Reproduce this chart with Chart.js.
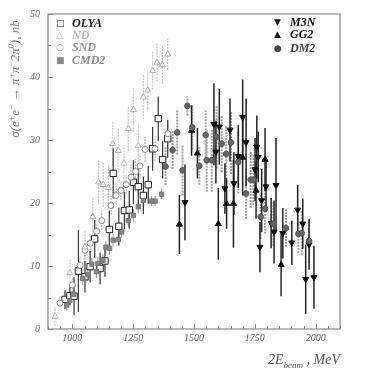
<!DOCTYPE html>
<html>
<head>
<meta charset="utf-8">
<script src="https://cdn.jsdelivr.net/npm/chart.js@4.4.1/dist/chart.umd.min.js"></script>
<style>
  html, body { margin: 0; padding: 0; background: #fff; }
  #wrap { position: relative; width: 368px; height: 377px; overflow: hidden; }
  #chart { position: absolute; left: 0; top: 0; }
  .serif { position: absolute; font-family: "Liberation Serif", "DejaVu Serif", serif; font-style: italic; white-space: nowrap; }
  .leg { font-size: 12px; font-weight: bold; line-height: 12px; }
  .mk { position: absolute; font-family: "DejaVu Sans", sans-serif; font-style: normal; font-size: 9px; line-height: 12px; }
  #ytitle { left: 15px; top: 79px; font-size: 13px; color: #777; transform: translate(-50%, -50%) rotate(-90deg); }
  #ytitle sup { font-size: 8px; }
  #xtitle { right: 28px; top: 352px; font-size: 14px; color: #555; }
  #xtitle sub { font-size: 9px; }
</style>
</head>
<body>
<div id="wrap">
  <canvas id="chart" width="368" height="377"></canvas>
  <div id="ytitle" class="serif">σ(e<sup>+</sup>e<sup>−</sup> → π<sup>+</sup>π<sup>−</sup>2π<sup>0</sup>), nb</div>
  <div id="xtitle" class="serif">2E<sub>beam</sub> , MeV</div>
  <div id="legend"></div>
</div>
<script>
// Axis ticks
const xTickValues = [1000, 1250, 1500, 1750, 2000];
const yTickValues = [0, 10, 20, 30, 40, 50];

// OLYA
const olyaE = [970, 990, 1007, 1025, 1052, 1073, 1092, 1114, 1134, 1152, 1168, 1191, 1214, 1234, 1251, 1271, 1292, 1312, 1330, 1353, 1371, 1392];
const olyaS = [4.7, 5.3, 5.2, 9.2, 8.3, 9.9, 14.3, 9.6, 10.8, 15.8, 24.7, 16.3, 18.8, 18.9, 23.3, 22.6, 21.2, 22.9, 28.6, 33.4, 26.9, 30.2];
const olyaErr = [1.5, 1.5, 3.0, 6.5, 2.5, 2.5, 3.0, 2.5, 2.5, 3.0, 4.0, 3.0, 3.0, 3.0, 3.5, 3.0, 3.0, 3.0, 3.5, 3.5, 3.0, 3.0];

// ND
const ndE = [929, 990, 1052, 1084, 1108, 1127, 1148, 1166, 1189, 1212, 1230, 1251, 1271, 1292, 1310, 1330, 1348, 1370, 1392];
const ndS = [2.0, 8.9, 13.0, 17.8, 23.3, 22.9, 22.4, 29.4, 28.3, 26.3, 31.8, 34.8, 29.1, 36.8, 37.9, 41.0, 42.3, 41.9, 43.6];
const ndErr = [1.5, 2.0, 2.5, 3.0, 3.5, 3.5, 3.5, 3.5, 3.5, 3.0, 3.5, 3.5, 3.5, 3.5, 3.0, 3.0, 3.0, 3.0, 2.5];

// SND
const sndE = [949, 1000, 1032, 1052, 1073, 1100, 1121, 1159, 1180, 1200, 1221, 1241, 1260, 1278, 1299, 1340, 1393];
const sndS = [4.1, 7.0, 10.1, 12.5, 13.6, 15.5, 17.2, 19.6, 21.2, 22.0, 22.9, 24.1, 25.0, 25.9, 28.5, 28.6, 31.0];
const sndErr = [1.0, 1.2, 1.5, 1.5, 1.5, 1.5, 1.5, 1.5, 1.5, 1.5, 1.5, 2.0, 2.0, 2.0, 2.0, 2.0, 2.0];

// CMD2
const cmdE = [977, 990, 1005, 1043, 1064, 1080, 1099, 1105, 1126, 1138, 1153, 1168, 1189, 1203, 1230, 1251, 1271, 1292, 1326, 1340, 1367];
const cmdS = [3.8, 4.5, 5.5, 8.0, 8.6, 10.3, 9.1, 10.4, 10.9, 13.0, 12.8, 14.1, 14.2, 15.4, 17.2, 18.0, 19.4, 20.4, 20.3, 20.3, 21.4];
const cmdErr = [0.8, 0.8, 0.8, 1.0, 1.0, 1.0, 1.0, 1.0, 1.0, 1.0, 1.0, 1.0, 1.0, 1.0, 1.0, 1.0, 1.0, 1.0, 0.8, 0.8, 0.8];

// M3N
const m3nE = [1463, 1582, 1590, 1604, 1627, 1648, 1664, 1682, 1700, 1714, 1751, 1758, 1764, 1771, 1778, 1796, 1817, 1829, 1837, 1865, 1902, 1926, 1947, 1959, 1973, 1993];
const m3nS = [20.1, 32.5, 28.1, 32.1, 22.3, 31.6, 23.1, 27.4, 33.6, 29.6, 25.3, 28.9, 27.3, 13.0, 20.4, 22.6, 16.8, 15.4, 22.8, 15.2, 13.7, 18.9, 16.7, 7.9, 13.4, 8.2];
const m3nErr = [6.0, 6.5, 5.0, 6.0, 4.0, 5.0, 5.0, 5.0, 6.0, 7.0, 5.0, 5.0, 4.0, 4.0, 5.0, 4.0, 4.0, 5.0, 7.5, 4.0, 3.5, 4.0, 4.0, 5.5, 4.0, 5.0];

// GG2
const gg2E = [1440, 1490, 1514, 1600, 1634, 1662, 1700, 1755, 1792, 1858];
const gg2S = [16.6, 31.5, 27.9, 16.7, 19.9, 19.9, 27.2, 22.0, 26.9, 10.2];
const gg2Err = [4.7, 4.0, 4.0, 5.7, 4.0, 7.0, 6.0, 4.5, 5.0, 5.0];

// DM2
const dm2E = [1383, 1412, 1431, 1453, 1473, 1493, 1522, 1548, 1552, 1573, 1593, 1614, 1632, 1652, 1682, 1714, 1733, 1744, 1774, 1792, 1826, 1878, 1929, 1943, 1973];
const dm2S = [25.8, 28.4, 31.2, 25.2, 35.4, 32.0, 25.9, 30.8, 26.8, 26.8, 30.5, 29.4, 27.8, 29.6, 26.5, 21.5, 23.7, 23.7, 17.8, 19.1, 16.7, 16.0, 15.1, 15.2, 14.0];
const dm2Err = [3.0, 3.0, 3.5, 4.0, 1.5, 3.5, 3.0, 4.0, 5.0, 5.0, 5.0, 4.5, 4.5, 5.0, 5.0, 4.0, 4.5, 4.0, 3.5, 4.0, 3.5, 3.0, 3.0, 3.5, 3.5];

const toPoints = (xs, ys) => xs.map((x, i) => ({ x: x, y: ys[i] }));

// Build one scatter dataset with error info
function series(label, xs, ys, errs, style) {
  return Object.assign({
    label: label,
    data: toPoints(xs, ys),
    errors: errs,
    showLine: false,
    borderWidth: 1,
  }, style);
}

const datasets = [
  series('ND', ndE, ndS, ndErr, { pointStyle: 'triangle', pointRadius: 3.5, backgroundColor: '#fff', borderColor: '#b5b5b5', errColor: '#c8c8c8', errWidth: 1.2, errDash: [2, 1] }),
  series('SND', sndE, sndS, sndErr, { pointStyle: 'circle', pointRadius: 3, backgroundColor: '#fff', borderColor: '#8c8c8c', errColor: '#aaa', errWidth: 1, errDash: [2, 1] }),
  series('CMD2', cmdE, cmdS, cmdErr, { pointStyle: 'rect', pointRadius: 3, backgroundColor: '#888', borderColor: '#777', errColor: '#999', errWidth: 1, errDash: [] }),
  series('DM2', dm2E, dm2S, dm2Err, { pointStyle: 'circle', pointRadius: 2.8, backgroundColor: '#666', borderColor: '#555', errColor: '#a0a0a0', errWidth: 2, errDash: [2, 1] }),
  series('OLYA', olyaE, olyaS, olyaErr, { pointStyle: 'rect', pointRadius: 4.5, backgroundColor: '#fff', borderColor: '#222', errColor: '#333', errWidth: 1.2, errDash: [] }),
  series('GG2', gg2E, gg2S, gg2Err, { pointStyle: 'triangle', pointRadius: 3.5, backgroundColor: '#111', borderColor: '#111', errColor: '#222', errWidth: 1.5, errDash: [] }),
  series('M3N', m3nE, m3nS, m3nErr, { pointStyle: 'triangle', rotation: 180, pointRadius: 3.5, backgroundColor: '#111', borderColor: '#111', errColor: '#222', errWidth: 1.5, errDash: [] }),
];

// Error bars, frame and inward ticks
const physPlot = {
  id: 'physPlot',
  beforeDatasetsDraw(chart) {
    const ctx = chart.ctx;
    const xs = chart.scales.x, ys = chart.scales.y;
    ctx.save();
    chart.data.datasets.forEach((ds) => {
      ctx.strokeStyle = ds.errColor;
      ctx.lineWidth = ds.errWidth;
      ctx.setLineDash(ds.errDash);
      ds.data.forEach((p, i) => {
        const px = xs.getPixelForValue(p.x);
        ctx.beginPath();
        ctx.moveTo(px, ys.getPixelForValue(p.y - ds.errors[i]));
        ctx.lineTo(px, ys.getPixelForValue(p.y + ds.errors[i]));
        ctx.stroke();
      });
    });
    ctx.restore();
  },
  afterDraw(chart) {
    const ctx = chart.ctx;
    const a = chart.chartArea;
    const xs = chart.scales.x, ys = chart.scales.y;
    ctx.save();
    ctx.strokeStyle = '#8a8a8a';
    ctx.lineWidth = 1.2;
    ctx.strokeRect(a.left, a.top, a.right - a.left, a.bottom - a.top);
    ctx.lineWidth = 1;
    ctx.beginPath();
    for (let v = 900; v <= 2100; v += 50) {
      const px = Math.round(xs.getPixelForValue(v)) + 0.5;
      const len = v % 250 === 0 ? 5 : 3;
      ctx.moveTo(px, a.bottom);
      ctx.lineTo(px, a.bottom - len);
    }
    for (let v = 0; v <= 50; v += 5) {
      const py = Math.round(ys.getPixelForValue(v)) + 0.5;
      const len = v % 10 === 0 ? 5 : 3;
      ctx.moveTo(a.left, py);
      ctx.lineTo(a.left + len, py);
    }
    ctx.stroke();
    ctx.restore();
  },
};

const tickFont = { family: '"Liberation Serif", "DejaVu Serif", serif', style: 'italic', size: 10 };

new Chart(document.getElementById('chart'), {
  type: 'scatter',
  data: { datasets: datasets },
  options: {
    responsive: false,
    animation: false,
    layout: { padding: { left: 0, top: 13, right: 28, bottom: 0 } },
    plugins: { legend: { display: false }, tooltip: { enabled: false } },
    scales: {
      x: {
        type: 'linear',
        min: 900,
        max: 2100,
        afterBuildTicks: (s) => { s.ticks = xTickValues.map((v) => ({ value: v })); },
        afterFit: (s) => { s.height = 48; },
        grid: { display: false, drawTicks: false },
        border: { display: false },
        ticks: { font: tickFont, color: '#666', padding: 3, callback: (v) => String(v) },
      },
      y: {
        type: 'linear',
        min: 0,
        max: 50,
        afterBuildTicks: (s) => { s.ticks = yTickValues.map((v) => ({ value: v })); },
        afterFit: (s) => { s.width = 48; },
        grid: { display: false, drawTicks: false },
        border: { display: false },
        ticks: { font: tickFont, color: '#666', padding: 8, callback: (v) => String(v) },
      },
    },
  },
  plugins: [physPlot],
});

// Legend (two groups inside the plot)
const legendItems = [
  { text: 'OLYA', mark: '□', color: '#222', x: 56, y: 17 },
  { text: 'ND', mark: '△', color: '#bbb', x: 56, y: 29 },
  { text: 'SND', mark: '○', color: '#999', x: 56, y: 41 },
  { text: 'CMD2', mark: '■', color: '#888', x: 56, y: 54 },
  { text: 'M3N', mark: '▼', color: '#111', x: 274, y: 16 },
  { text: 'GG2', mark: '▲', color: '#111', x: 274, y: 28 },
  { text: 'DM2', mark: '●', color: '#444', x: 274, y: 42 },
];
const legend = document.getElementById('legend');
legendItems.forEach((it) => {
  const m = document.createElement('div');
  m.className = 'mk';
  m.style.left = it.x + 'px';
  m.style.top = it.y + 'px';
  m.style.color = it.color;
  m.textContent = it.mark;
  legend.appendChild(m);
  const t = document.createElement('div');
  t.className = 'serif leg';
  t.style.left = (it.x + 16) + 'px';
  t.style.top = it.y + 'px';
  t.style.color = it.color;
  t.textContent = it.text;
  legend.appendChild(t);
});
</script>
</body>
</html>
